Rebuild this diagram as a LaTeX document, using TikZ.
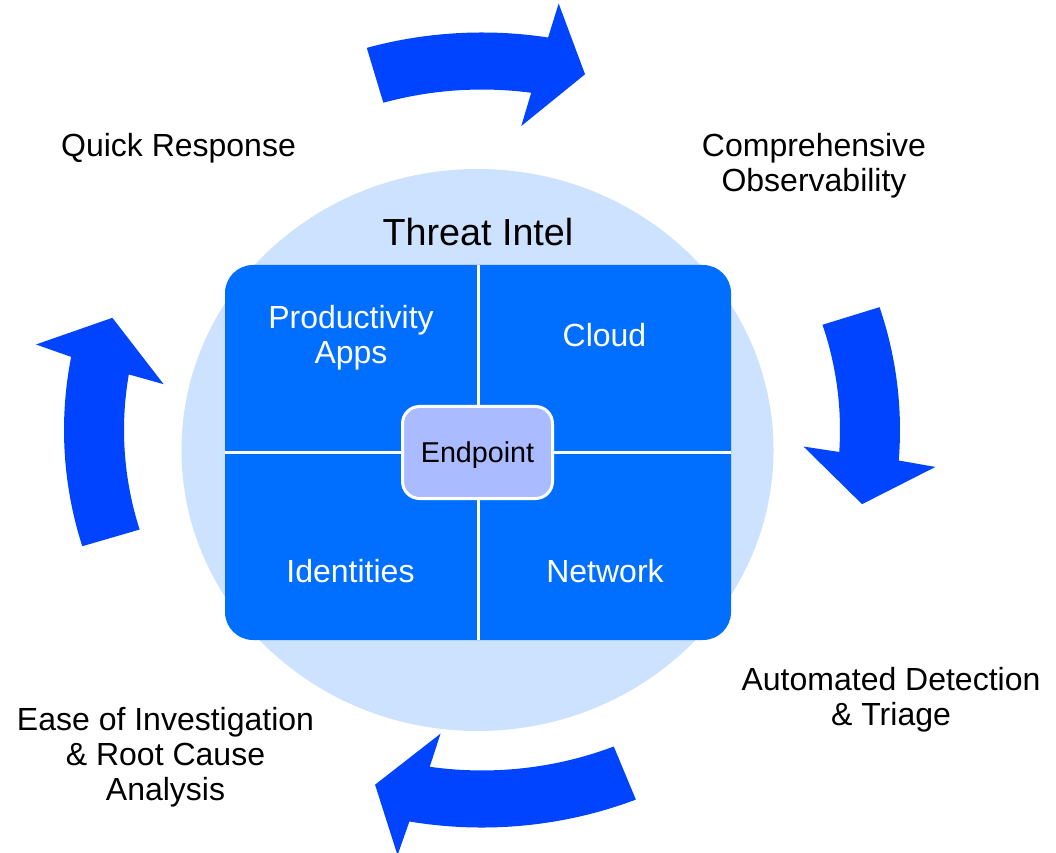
\documentclass[tikz,border=0pt]{standalone}
\usepackage{fontspec}
\setmainfont{Liberation Sans}
\definecolor{arrowblue}{RGB}{0,68,255}
\definecolor{quadblue}{RGB}{0,110,255}
\definecolor{ringblue}{RGB}{205,226,255}
\definecolor{endblue}{RGB}{170,187,255}
% tail angle, base outer, base inner, barb outer, barb inner, tip
\newcommand\cyclearrow[6]{%
  \fill[arrowblue] (#1:418) arc[start angle=#1, end angle=#2, radius=418]
    -- (#4:455) -- (#6:388) -- (#5:322) -- (#3:358)
    arc[start angle=#3, end angle=#1, radius=358] -- cycle;}
\tikzset{
  lbl/.style={font=\fontsize{32}{35}\selectfont, align=center, text=black, inner sep=0pt},
  qlbl/.style={lbl, text=white},
}
\begin{document}
\begin{tikzpicture}[x=1pt, y=1pt]
\useasboundingbox (0,0) rectangle (1056,852);
% background ellipse
\fill[ringblue] (477.5,402) ellipse[x radius=296, y radius=281];
% cycle arrows
\begin{scope}[shift={(482,422)}, yscale=0.951]
  \cyclearrow{106}{80.9}{82.1}{80.3}{83.0}{74.6}
  \cyclearrow{18}{-4.4}{-3.7}{-4.9}{-3.1}{-11.6}
  \cyclearrow{-68.4}{-100.0}{-98.4}{-100.7}{-97.4}{-106}
  \cyclearrow{197}{169.4}{170.6}{168.6}{171.4}{162.3}
\end{scope}
% central panel
\node[fill=quadblue, rounded corners=28pt, minimum width=506pt, minimum height=375pt, inner sep=0pt] (panel) at (478,399.5) {};
\draw[white, line width=3pt] (panel.north) -- (panel.south);
\draw[white, line width=3pt] (panel.west) -- (panel.east);
\node[fill=endblue, draw=white, line width=3pt, rounded corners=17pt, minimum width=150pt, minimum height=92pt, inner sep=0pt, text depth=0pt, font=\fontsize{28.7}{30}\selectfont] (endpoint) at (477.5,399.5) {Endpoint};
% quadrant labels
\node[qlbl] (prod) at (351,514.5) {Productivity\\Apps};
\node[qlbl] (cloud) at (604.5,517) {Cloud};
\node[qlbl] (ident) at (350.5,281) {Identities};
\node[qlbl] (net) at (605,281) {Network};
\node[lbl, font=\fontsize{37.7}{40}\selectfont] (intel) at (478,620) {Threat Intel};
% outer labels
\node[lbl] (quick) at (178.5,703.5) {Quick Response};
\node[lbl] (obs) at (814,686.5) {Comprehensive\\Observability};
\node[lbl] (auto) at (891,152) {Automated Detection\\\& Triage};
\node[lbl] (ease) at (165.5,95) {Ease of Investigation\\\& Root Cause\\Analysis};
\end{tikzpicture}
\end{document}
